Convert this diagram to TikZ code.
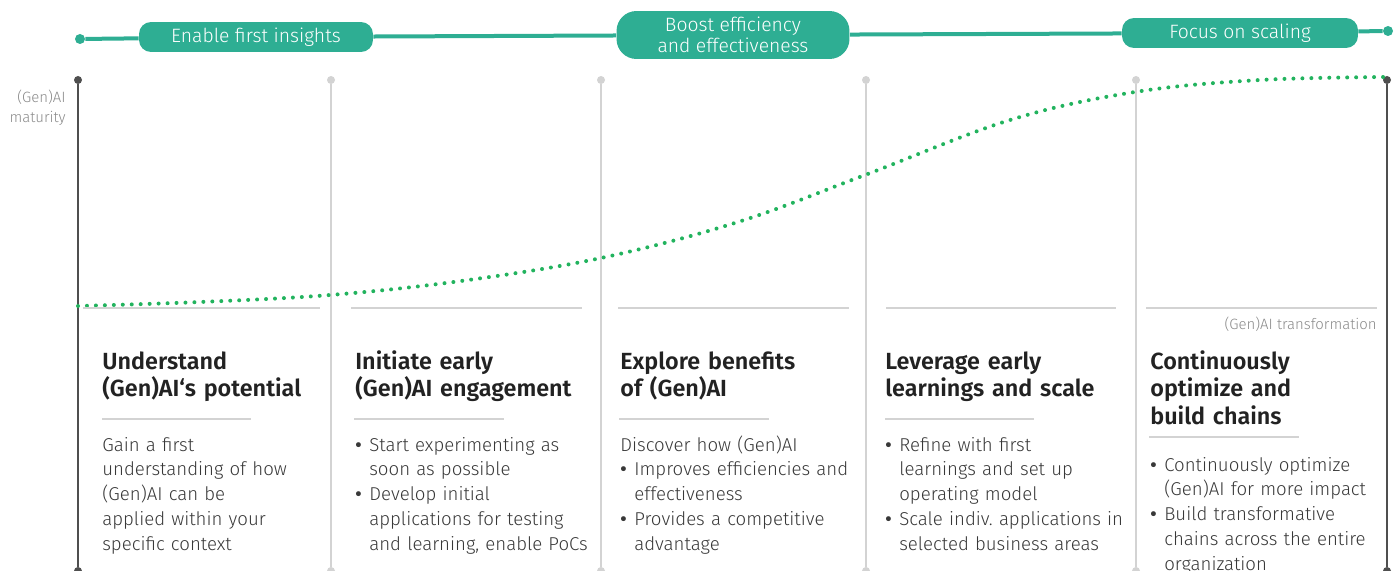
\documentclass[tikz,border=0pt]{standalone}
\usepackage{fontspec}
\setmainfont{Fira Sans}[UprightFont=* Light, BoldFont=* SemiBold]
\definecolor{barteal}{HTML}{2EAE93}
\definecolor{curvegreen}{HTML}{22B35E}
\definecolor{rulegray}{HTML}{D3D3D3}
\definecolor{axisgray}{HTML}{4F4F4F}
\definecolor{labelgray}{HTML}{8A8A8A}
\definecolor{headgray}{HTML}{222222}
\definecolor{bodygray}{HTML}{383838}
\newcommand{\bitem}{\hangindent=0.28cm\hangafter=1\makebox[0.28cm][l]{\bfseries\textbullet}}
\tikzset{
  pill/.style={fill=barteal, text=white, inner sep=0, font=\fontsize{11}{12}\selectfont, align=center},
  bardot/.style={circle, fill=barteal, inner sep=0, minimum size=0.2cm},
  topdot/.style={circle, inner sep=0, minimum size=0.16cm},
  head/.style={anchor=base west, align=left, text width=5cm, inner sep=0, text=headgray, font=\bfseries\fontsize{13.3}{15.9}\selectfont},
  body/.style={anchor=base west, align=left, text width=5.2cm, inner sep=0, text=bodygray, font=\fontsize{10.6}{14.2}\selectfont},
  side/.style={inner sep=0, text=labelgray, font=\fontsize{8.5}{11.4}\selectfont},
}
\begin{document}
\begin{tikzpicture}[x=0.02cm,y=-0.02cm]
\useasboundingbox (0,0) rectangle (1397,571);
% phase bar
\node[bardot] (bl) at (80,39) {};
\node[bardot] (br) at (1388,31) {};
\node[pill, minimum width=4.68cm, minimum height=0.6cm, rounded corners=0.24cm] (p1) at (256,37) {Enable first insights};
\node[pill, minimum width=4.66cm, minimum height=0.96cm, rounded corners=0.4cm] (p2) at (733,35) {Boost efficiency\\and effectiveness};
\node[pill, minimum width=4.72cm, minimum height=0.6cm, rounded corners=0.24cm] (p3) at (1240,33) {Focus on scaling};
\draw[barteal, line width=0.08cm] (bl) -- (p1) -- (p2) -- (p3) -- (br);
% stage dividers
\node[topdot, fill=axisgray] (t1) at (78,80) {};
\node[topdot, fill=axisgray] (b1) at (78,571) {};
\draw[axisgray, line width=0.04cm] (t1) -- (b1);
\node[topdot, fill=rulegray] (t2) at (331,80) {};
\node[topdot, fill=rulegray] (b2) at (331,571) {};
\draw[rulegray, line width=0.03cm] (t2) -- (b2);
\node[topdot, fill=rulegray] (t3) at (601,80) {};
\node[topdot, fill=rulegray] (b3) at (601,571) {};
\draw[rulegray, line width=0.03cm] (t3) -- (b3);
\node[topdot, fill=rulegray] (t4) at (866,80) {};
\node[topdot, fill=rulegray] (b4) at (866,571) {};
\draw[rulegray, line width=0.03cm] (t4) -- (b4);
\node[topdot, fill=rulegray] (t5) at (1136,80) {};
\node[topdot, fill=rulegray] (b5) at (1136,571) {};
\draw[rulegray, line width=0.03cm] (t5) -- (b5);
\node[topdot, fill=axisgray] (t6) at (1387,80) {};
\node[topdot, fill=axisgray] (b6) at (1387,571) {};
\draw[axisgray, line width=0.04cm] (t6) -- (b6);
\node[side, anchor=base east, align=right] (maturity) at (66,123) {(Gen)AI\\maturity};
\node[side, anchor=base east] (transf) at (1377,329) {(Gen)AI transformation};
% maturity curve
\draw[curvegreen, line width=0.08cm, line cap=round, dash pattern=on 0pt off 5.1pt]
  plot[smooth, tension=0.6] coordinates {(78,306) (200,302) (330,295) (461,281) (601,258) (738,222) (865,175) (1010,120) (1135,92) (1260,80) (1387,77)};
% rules
\draw[rulegray, line width=0.04cm] (83,308) -- (320,308);
\draw[rulegray, line width=0.04cm] (351,308) -- (582,308);
\draw[rulegray, line width=0.04cm] (618,308) -- (849,308);
\draw[rulegray, line width=0.04cm] (886,308) -- (1116,308);
\draw[rulegray, line width=0.04cm] (1146,308) -- (1377,308);
\draw[rulegray, line width=0.05cm] (102,419) -- (251,419);
\draw[rulegray, line width=0.05cm] (354,419) -- (504,419);
\draw[rulegray, line width=0.05cm] (619,419) -- (769,419);
\draw[rulegray, line width=0.05cm] (885,419) -- (1034,419);
\draw[rulegray, line width=0.05cm] (1149,437) -- (1299,437);
% stages
\node[head] (h1) at (102,369) {Understand\\(Gen)AI‘s potential};
\node[body] (s1) at (102,451) {Gain a first\newline understanding of how\newline (Gen)AI can be\newline applied within your\newline specific context};
\node[head] (h2) at (355,369) {Initiate early\\(Gen)AI engagement};
\node[body] (s2) at (355,451) {\bitem Start experimenting as\newline soon as possible\par\bitem Develop initial\newline applications for testing\newline and learning, enable PoCs\par};
\node[head] (h3) at (620,369) {Explore benefits\\of (Gen)AI};
\node[body] (s3) at (620,451) {Discover how (Gen)AI\par\bitem Improves efficiencies and\newline effectiveness\par\bitem Provides a competitive\newline advantage\par};
\node[head] (h4) at (885,369) {Leverage early\\learnings and scale};
\node[body] (s4) at (885,451) {\bitem Refine with first\newline learnings and set up\newline operating model\par\bitem Scale indiv.\ applications in\newline selected business areas\par};
\node[head] (h5) at (1150,369) {Continuously\\optimize and\\build chains};
\node[body] (s5) at (1150,471) {\bitem Continuously optimize\newline (Gen)AI for more impact\par\bitem Build transformative\newline chains across the entire\newline organization\par};
\end{tikzpicture}
\end{document}
